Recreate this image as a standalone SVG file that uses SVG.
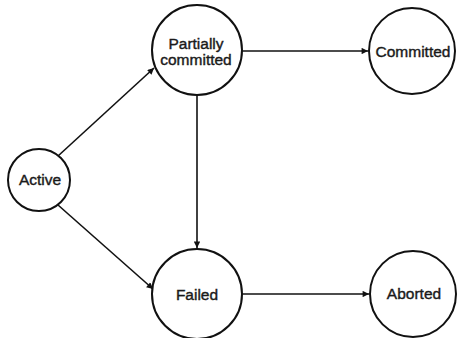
<svg xmlns="http://www.w3.org/2000/svg" width="457" height="338" viewBox="0 0 457 338">
<style>
.node circle{fill:#fff;stroke:#111;stroke-width:2}
.node text{font-family:"Liberation Sans",Arial,sans-serif;font-size:15.5px;fill:#1a1a1a;text-anchor:middle;stroke:#1a1a1a;stroke-width:0.4}
.edge{stroke:#111;stroke-width:1.6;fill:none;marker-end:url(#ah)}
</style>
<defs>
<marker id="ah" viewBox="0 0 10 10" refX="10" refY="5" markerWidth="5" markerHeight="4" orient="auto" markerUnits="strokeWidth">
<path d="M0,0 L10,5 L0,10 z" fill="#111"/>
</marker>
</defs>
<rect width="457" height="338" fill="#fff"/>
<g id="connectors">
<line class="edge" x1="58" y1="156" x2="154" y2="68"/>
<line class="edge" x1="58" y1="205" x2="153" y2="289"/>
<line class="edge" x1="197" y1="95" x2="197" y2="248"/>
<line class="edge" x1="241" y1="51" x2="368" y2="51"/>
<line class="edge" x1="242" y1="294" x2="369" y2="294"/>
</g>
<g id="active" class="node"><circle cx="39" cy="180" r="31"/><text x="40" y="185">Active</text></g>
<g id="partially" class="node"><circle cx="197" cy="50" r="45"/><text x="196" y="49">Partially</text><text x="196" y="65">committed</text></g>
<g id="committed" class="node"><circle cx="412" cy="51" r="43"/><text x="413" y="57">Committed</text></g>
<g id="failed" class="node"><circle cx="197" cy="294" r="45"/><text x="197" y="300">Failed</text></g>
<g id="aborted" class="node"><circle cx="413" cy="294" r="43"/><text x="414" y="299">Aborted</text></g>
</svg>
